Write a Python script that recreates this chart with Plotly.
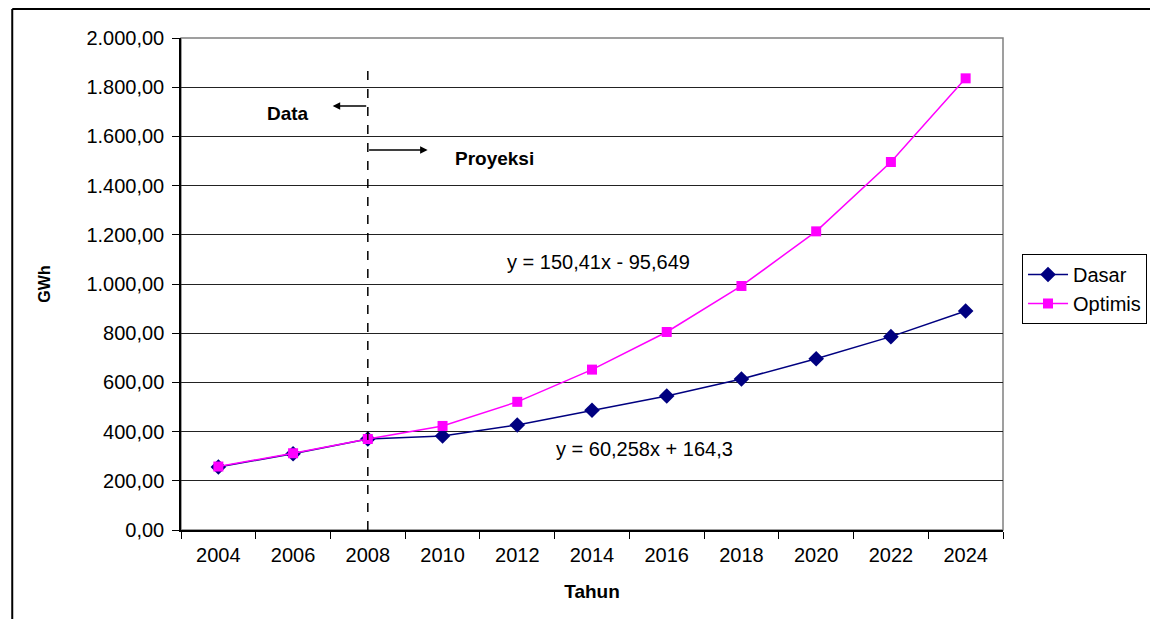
import plotly.graph_objects as go

# data
tahun = ["2004", "2006", "2008", "2010", "2012", "2014",
         "2016", "2018", "2020", "2022", "2024"]
dasar = [256, 310, 370, 382, 427, 487, 545, 614, 696, 786, 890]
optimis = [258, 312, 370, 423, 521, 652, 805, 992, 1214, 1496, 1836]
y_ticks = [0, 200, 400, 600, 800, 1000, 1200, 1400, 1600, 1800, 2000]
batas = "2008"          # last year of historical data
eq_dasar = "y = 60,258x + 164,3"
eq_optimis = "y = 150,41x - 95,649"

FONT = "Liberation Sans, Arial, sans-serif"
i_batas = tahun.index(batas)

fig = go.Figure()
fig.add_trace(go.Scatter(
    x=tahun, y=dasar, name="Dasar", mode="lines+markers",
    line=dict(color="#000080", width=1.5),
    marker=dict(symbol="diamond", size=12, color="#000080"),
))
fig.add_trace(go.Scatter(
    x=tahun, y=optimis, name="Optimis", mode="lines+markers",
    line=dict(color="#FF00FF", width=1.5),
    marker=dict(symbol="square", size=10, color="#FF00FF"),
))

# dashed divider between data and projection
fig.add_shape(type="line", xref="x", yref="y", x0=i_batas, x1=i_batas,
              y0=0, y1=1870, line=dict(color="black", width=1.5, dash="dash"))

# plot area border (grey) and outer chart frame (black)
fig.add_shape(type="rect", xref="paper", yref="paper", x0=0, x1=1, y0=0, y1=1,
              line=dict(color="#808080", width=1.5), layer="below")
fig.add_shape(type="line", xref="paper", yref="paper", x0=-0.2053, x1=-0.2053,
              y0=1.059, y1=-0.3, line=dict(color="black", width=2))
fig.add_shape(type="line", xref="paper", yref="paper", x0=-0.2053, x1=1.3,
              y0=1.059, y1=1.059, line=dict(color="black", width=2))

bold = dict(family=FONT, size=19, color="black")
norm = dict(family=FONT, size=20, color="black")
fig.add_annotation(x=i_batas - 0.47, y=1724, ax=35, ay=0, text="",
                   showarrow=True, arrowhead=2, arrowsize=1, arrowwidth=1.5,
                   arrowcolor="black")
fig.add_annotation(x=i_batas + 0.80, y=1545, ax=-60, ay=0, text="",
                   showarrow=True, arrowhead=2, arrowsize=1, arrowwidth=1.5,
                   arrowcolor="black")
fig.add_annotation(x=i_batas - 1.07, y=1695, text="<b>Data</b>",
                   showarrow=False, font=bold)
fig.add_annotation(x=i_batas + 1.70, y=1512, text="<b>Proyeksi</b>",
                   showarrow=False, font=bold)
fig.add_annotation(x=5.09, y=1089, text=eq_optimis, showarrow=False, font=norm)
fig.add_annotation(x=5.70, y=329, text=eq_dasar, showarrow=False, font=norm)

fig.update_xaxes(
    type="category", range=[-0.5, len(tahun) - 0.5], tickson="boundaries",
    ticks="outside", ticklen=7, tickcolor="black", ticklabelstandoff=6,
    showline=True, linecolor="black", linewidth=1.5, showgrid=False,
    tickfont=norm,
    title=dict(text="<b>Tahun</b>", font=bold, standoff=20),
)
fig.update_yaxes(
    range=[0, 2000], tickvals=y_ticks, tickformat=",.2f",
    ticks="outside", ticklen=7, tickcolor="black", ticklabelstandoff=4,
    showline=True, linecolor="black", linewidth=1.5,
    showgrid=True, gridcolor="#222222", gridwidth=1, zeroline=False,
    tickfont=norm,
    title=dict(text="<b>GWh</b>", font=dict(family=FONT, size=16, color="black"),
               standoff=32),
)

# the page adds an 8px body margin, so the figure is 8px smaller each way
fig.update_layout(
    width=1150, height=611,
    margin=dict(l=173, r=154, t=30, b=89),
    plot_bgcolor="white", paper_bgcolor="white",
    separators=",.",
    font=dict(family=FONT, color="black"),
    legend=dict(x=1.0219, y=0.561, xanchor="left", yanchor="top",
                bordercolor="black", borderwidth=1, bgcolor="white",
                font=dict(family=FONT, size=20, color="black"),
                tracegroupgap=0, itemwidth=40),
    showlegend=True,
)

fig.write_html("out.html")
